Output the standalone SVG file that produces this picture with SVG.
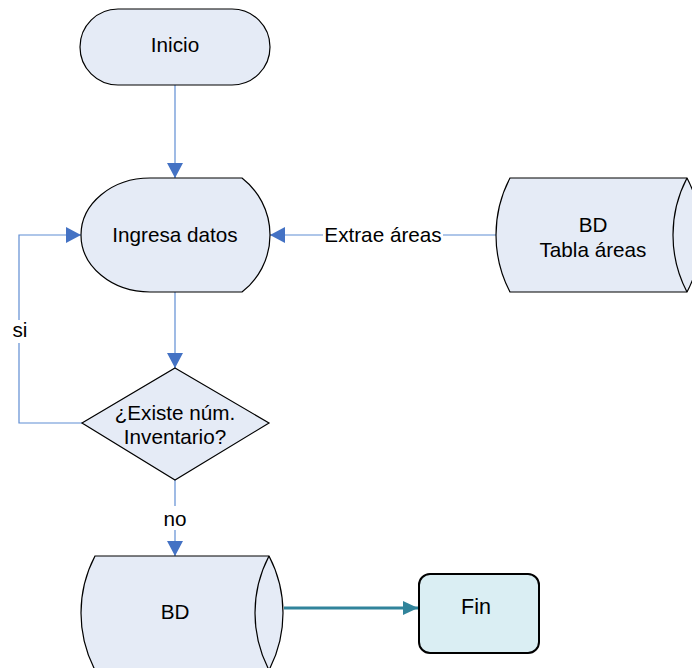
<svg xmlns="http://www.w3.org/2000/svg" width="692" height="668" viewBox="0 0 692 668">
<style>
.node{fill:#E5EBF6;stroke:#000;stroke-width:1.2}
.t{font-family:"Liberation Sans",Arial,sans-serif;font-size:20.7px;fill:#000;text-anchor:middle}
.c{fill:none;stroke:#5F8DD3;stroke-width:1.2}
.lbl{fill:#fff}
</style>
<defs>
<marker id="ab" markerUnits="userSpaceOnUse" markerWidth="15" markerHeight="16" refX="15" refY="8" orient="auto">
<path d="M0,0 L15,8 L0,16 Z" fill="#4472C4"/>
</marker>
<marker id="at" markerUnits="userSpaceOnUse" markerWidth="15" markerHeight="14" refX="15" refY="7" orient="auto">
<path d="M0,0 L15,7 L0,14 Z" fill="#31849B"/>
</marker>
</defs>
<rect width="692" height="668" fill="#fff"/>
<g id="connectors">
<path class="c" d="M175,85 L175,178" marker-end="url(#ab)"/>
<path class="c" d="M497,235 L270,235" marker-end="url(#ab)"/>
<rect class="lbl" x="323" y="224" width="120" height="22"/>
<text class="t" x="383" y="242">Extrae áreas</text>
<path class="c" d="M175,291 L175,368" marker-end="url(#ab)"/>
<path class="c" d="M82,423 L19,423 L19,235 L81,235" marker-end="url(#ab)"/>
<rect class="lbl" x="9" y="320" width="22" height="23"/>
<text class="t" x="20" y="337">si</text>
<path class="c" d="M175,480 L175,556" marker-end="url(#ab)"/>
<rect class="lbl" x="160" y="506" width="30" height="24"/>
<text class="t" x="175" y="526">no</text>
<path d="M284,608 L418,608" fill="none" stroke="#31849B" stroke-width="3" marker-end="url(#at)"/>
</g>
<g id="inicio">
<rect class="node" x="80" y="9" width="190" height="76" rx="38" ry="38"/>
<text class="t" x="175" y="52">Inicio</text>
</g>
<g id="ingresa">
<path class="node" d="M150,178 L242,178 A72,72 0 0 1 242,292 L150,292 A69,57 0 0 1 150,178 Z"/>
<text class="t" x="175" y="242">Ingresa datos</text>
</g>
<g id="bd-areas">
<path class="node" d="M510,178 L687,178 A123,123 0 0 1 687,292 L510,292 A123,123 0 0 1 510,178 Z"/>
<path d="M687,178 A123,123 0 0 0 687,292" fill="none" stroke="#000" stroke-width="1.2"/>
<text class="t" x="593" y="232">BD</text>
<text class="t" x="593" y="257">Tabla áreas</text>
</g>
<g id="decision">
<path class="node" d="M175,368 L269,423 L175,480 L82,423 Z"/>
<text class="t" x="175" y="420">¿Existe núm.</text>
<text class="t" x="175" y="444">Inventario?</text>
</g>
<g id="bd">
<path class="node" d="M95,556 L269,556 A123,123 0 0 1 269,670 L95,670 A123,123 0 0 1 95,556 Z"/>
<path d="M269,556 A123,123 0 0 0 269,670" fill="none" stroke="#000" stroke-width="1.2"/>
<text class="t" x="175" y="619">BD</text>
</g>
<g id="fin">
<rect x="419" y="574" width="120" height="79" rx="11" ry="11" fill="#DAEEF3" stroke="#000" stroke-width="2"/>
<text class="t" x="476" y="614" style="font-size:21.5px">Fin</text>
</g>
</svg>
